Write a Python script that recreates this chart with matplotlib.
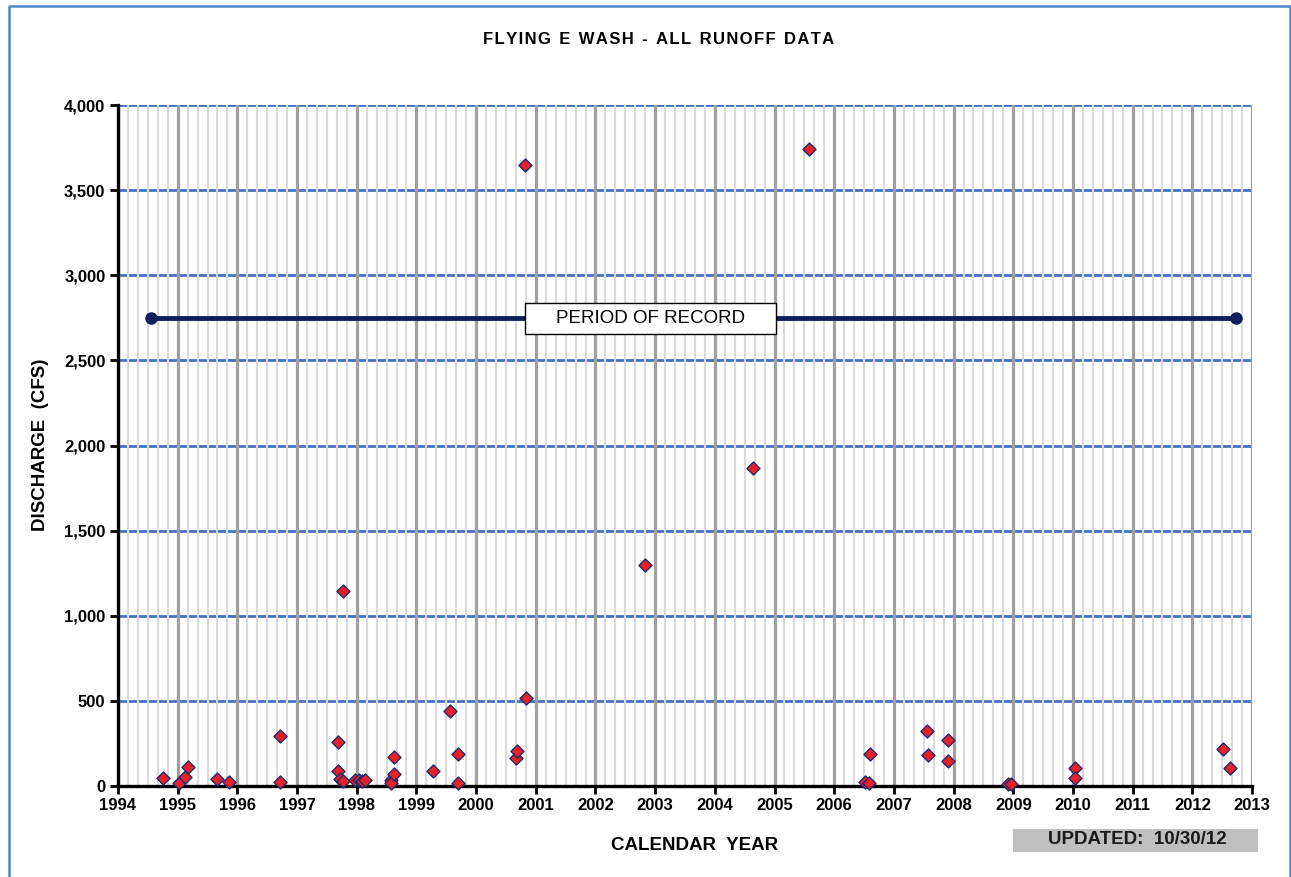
import matplotlib
matplotlib.use("Agg")
import matplotlib.pyplot as plt
from matplotlib.ticker import FuncFormatter, MultipleLocator
from matplotlib.patches import Rectangle
from matplotlib.lines import Line2D

plt.rcParams['font.family'] = ['Liberation Sans', 'DejaVu Sans']

# Data (decimal year, discharge cfs)
years = [1994.76, 1995.03, 1995.12, 1995.17, 1995.66, 1995.86,
         1996.72, 1996.72,
         1997.69, 1997.69, 1997.72, 1997.77, 1997.77,
         1997.97, 1998.03, 1998.08, 1998.14,
         1998.58, 1998.58, 1998.63, 1998.63,
         1999.27, 1999.56, 1999.69, 1999.69,
         2000.67, 2000.69, 2000.83, 2000.82,
         2002.83, 2004.64, 2005.57,
         2006.51, 2006.58, 2006.60,
         2007.56, 2007.57, 2007.91, 2007.91,
         2008.91, 2008.97,
         2010.04, 2010.04,
         2012.51, 2012.63]
discharge = [45, 15, 51, 113, 39, 22,
             296, 22,
             257, 90, 39, 29, 1145,
             35, 35, 30, 35,
             35, 15, 70, 172,
             90, 440, 188, 20,
             163, 205, 515, 3650,
             1300, 1870, 3740,
             25, 20, 188,
             323, 182, 270, 147,
             12, 12,
             104, 45,
             215, 104]

record_years = [1994.55, 2012.73]
record_level = [2750, 2750]

xmin, xmax = 1994, 2013
ymin, ymax = 0, 4000
year_ticks = list(range(1994, 2014))

W, H = 1291, 877
fig = plt.figure(figsize=(W/100, H/100), dpi=100)
ax = fig.add_axes([118/W, 1-786/H, (1252-118)/W, (786-105)/H])

# figure border (left, top, right)
bc = '#4F86CC'
fig.lines.append(Line2D([8.5/W, 8.5/W, 1290/W, 1290/W], [0, 1-6/H, 1-6/H, 0],
                        transform=fig.transFigure, color=bc, linewidth=1.8))

ax.set_xlim(xmin, xmax)
ax.set_ylim(ymin, ymax)

# gridlines
for y in range(500, 4001, 500):
    ax.axhline(y, color='#4472C4', linewidth=2.0, zorder=1)
for i in range((xmax - xmin) * 6 + 1):
    x = xmin + i / 6
    if i % 6 == 0:
        ax.axvline(x, color='#A0A0A0', linewidth=2.3, zorder=1.6)
    else:
        ax.axvline(x, color='#DADADA', linewidth=1.5, zorder=1.5)

ax.set_xticks(year_ticks)
ax.set_xticklabels([str(y) for y in year_ticks])
ax.yaxis.set_major_locator(MultipleLocator(500))
ax.yaxis.set_major_formatter(FuncFormatter(lambda v, p: f"{int(v):,}"))

for s in ['top', 'right']:
    ax.spines[s].set_visible(False)
for s in ['left', 'bottom']:
    ax.spines[s].set_linewidth(2.4)
    ax.spines[s].set_color('black')
    ax.spines[s].set_zorder(5)
ax.tick_params(axis='both', direction='out', length=6, width=2, labelsize=12, pad=3)
for lab in ax.get_xticklabels() + ax.get_yticklabels():
    lab.set_fontweight('bold')

# period of record line
ax.plot(record_years, record_level, color='#0F1F5C', linewidth=3.5,
        marker='o', markersize=8, zorder=3)
# label box (pixel extents converted to data via axes transform)
bx0, bx1, by0, by1 = 525, 776, 303, 334
ax.add_patch(Rectangle(((bx0-118)/(1252-118), (786-by1)/(786-105)),
                       (bx1-bx0)/(1252-118), (by1-by0)/(786-105),
                       transform=ax.transAxes, facecolor='white',
                       edgecolor='black', linewidth=1.0, zorder=4))
ax.text(((bx0+bx1)/2-118)/(1252-118), (786-(by0+by1)/2)/(786-105), "PERIOD OF RECORD",
        transform=ax.transAxes, ha='center', va='center', fontsize=13.5, zorder=4.5)

# data points
ax.scatter(years, discharge, marker='D', s=44, facecolor='#E8202A',
           edgecolor='#1F2A6B', linewidth=1.0, zorder=6, clip_on=False)

fig.text(659/W, 1-40/H, "F L Y I N G  E  W A S H  -  A L L  R U N O F F  D A T A".replace("  ", "\u2002").replace(" ", "\u200a"),
         ha='center', va='center', fontsize=12, fontweight='bold')
fig.text(695/W, 1-845/H, "CALENDAR  YEAR", ha='center', va='center',
         fontsize=13.5, fontweight='bold')
fig.text(41/W, 1-445/H, "DISCHARGE  (CFS)", ha='center', va='center',
         fontsize=13.5, fontweight='bold', rotation=90)

fig.patches.append(Rectangle((1013/W, 1-852/H), (1258-1013)/W, 23/H,
                             transform=fig.transFigure, facecolor='#BFBFBF',
                             edgecolor='none'))
fig.text(1137/W, 1-840/H, "UPDATED:  10/30/12", ha='center', va='center',
         fontsize=13.5, fontweight='bold', color='#1A1A1A')

fig.savefig("out.png", dpi=100)
